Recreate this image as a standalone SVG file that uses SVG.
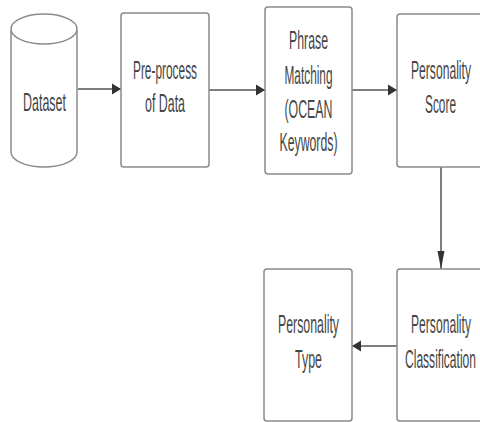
<svg xmlns="http://www.w3.org/2000/svg" width="480" height="422" viewBox="0 0 480 422">
<style>
.box{fill:#fff;stroke:#8a8a8a;stroke-width:1.5}
.lbl{font-family:"Liberation Sans",Arial,sans-serif;font-size:25px;fill:#464646;text-anchor:middle}
.con{stroke:#555;stroke-width:1.5;fill:none}
</style>
<defs>
<marker id="ah" markerUnits="userSpaceOnUse" markerWidth="10" markerHeight="12" refX="9" refY="6" orient="auto"><path d="M0,0.5 L9,6 L0,11.5 Z" fill="#333"/></marker>
<marker id="av" markerUnits="userSpaceOnUse" markerWidth="19" markerHeight="8" refX="18" refY="4" orient="auto"><path d="M0,0.5 L18,4 L0,7.5 Z" fill="#333"/></marker>
</defs>
<rect width="480" height="422" fill="#fff"/>
<g id="connectors">
<line class="con" x1="78" y1="89" x2="121" y2="89" marker-end="url(#ah)"/>
<line class="con" x1="209" y1="90" x2="265" y2="90" marker-end="url(#ah)"/>
<line class="con" x1="352" y1="90" x2="397" y2="90" marker-end="url(#ah)"/>
<line class="con" x1="441" y1="167" x2="441" y2="269" marker-end="url(#av)"/>
<line class="con" x1="397" y1="346" x2="352" y2="346" marker-end="url(#ah)"/>
</g>
<g id="dataset">
<path class="box" d="M11,29 L11,152 A33,15 0 0 0 77,152 L77,29 A33,15 0 0 0 11,29 A33,15 0 0 0 77,29"/>
<text class="lbl" x="44.5" y="111" textLength="43" lengthAdjust="spacingAndGlyphs">Dataset</text>
</g>
<g id="preprocess">
<rect class="box" x="121" y="13" width="88" height="154" rx="3"/>
<text class="lbl" x="165" y="79" textLength="64" lengthAdjust="spacingAndGlyphs">Pre-process</text>
<text class="lbl" x="165" y="112" textLength="40" lengthAdjust="spacingAndGlyphs">of Data</text>
</g>
<g id="phrase">
<rect class="box" x="265" y="7" width="87" height="167" rx="3"/>
<text class="lbl" x="308.5" y="49" textLength="39" lengthAdjust="spacingAndGlyphs">Phrase</text>
<text class="lbl" x="308.5" y="83.5" textLength="48" lengthAdjust="spacingAndGlyphs">Matching</text>
<text class="lbl" x="308.5" y="118" textLength="48" lengthAdjust="spacingAndGlyphs">(OCEAN</text>
<text class="lbl" x="308.5" y="151" textLength="58" lengthAdjust="spacingAndGlyphs">Keywords)</text>
</g>
<g id="score">
<rect class="box" x="397" y="14" width="88" height="153" rx="3"/>
<text class="lbl" x="441" y="79" textLength="60" lengthAdjust="spacingAndGlyphs">Personality</text>
<text class="lbl" x="440.5" y="112.5" textLength="31" lengthAdjust="spacingAndGlyphs">Score</text>
</g>
<g id="classification">
<rect class="box" x="397" y="269" width="88" height="152" rx="3"/>
<text class="lbl" x="441" y="333" textLength="60" lengthAdjust="spacingAndGlyphs">Personality</text>
<text class="lbl" x="440.5" y="368" textLength="71" lengthAdjust="spacingAndGlyphs">Classification</text>
</g>
<g id="type">
<rect class="box" x="264" y="269" width="88" height="152" rx="3"/>
<text class="lbl" x="308.5" y="333" textLength="61" lengthAdjust="spacingAndGlyphs">Personality</text>
<text class="lbl" x="308.5" y="368" textLength="27" lengthAdjust="spacingAndGlyphs">Type</text>
</g>
</svg>
